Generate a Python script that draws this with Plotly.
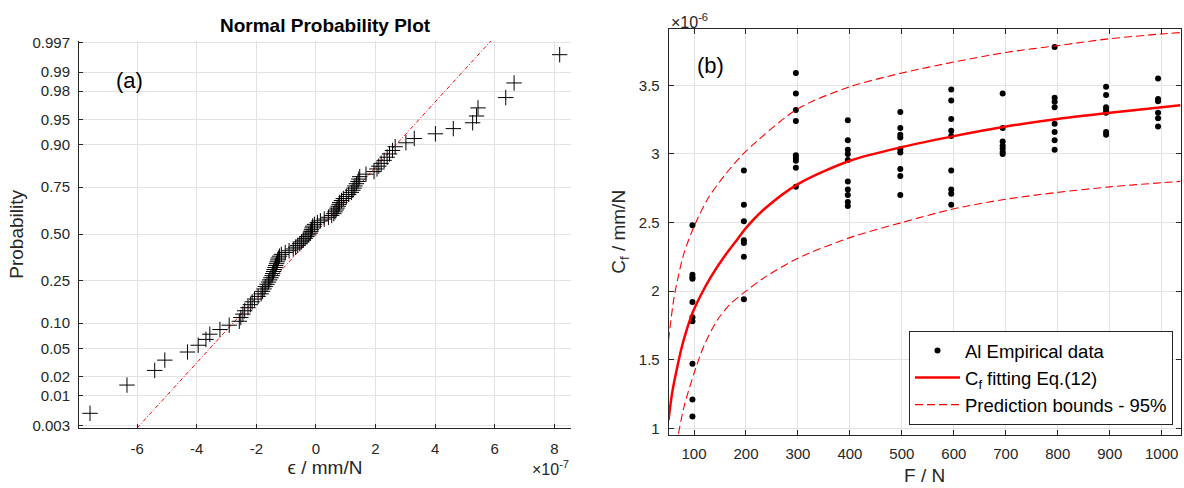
import plotly.graph_objects as go
from statistics import NormalDist

# ---------------- Panel (a): normal probability plot of residuals ----------------
# residuals, in units of 1e-7 mm/N, sorted
eps_residuals_e7 = [
    -7.58, -6.34, -5.41, -5.07, -4.31, -3.95, -3.69, -3.56, -3.22, -2.91, -2.57,
    -2.52, -2.45, -2.39, -2.28, -2.20, -2.14, -2.06, -1.94, -1.84,
    -1.79, -1.74, -1.70, -1.64, -1.59, -1.55, -1.51, -1.47, -1.45, -1.42,
    -1.40, -1.37, -1.35, -1.32, -1.30, -1.28, -1.26, -1.22, -1.16, -1.03,
    -0.90, -0.76, -0.68, -0.61, -0.54, -0.48, -0.42, -0.36, -0.30, -0.24,
    -0.19, -0.17, -0.15, -0.13, -0.11, -0.05, 0.05, 0.15, 0.28, 0.42,
    0.53, 0.60, 0.64, 0.68, 0.71, 0.75, 0.78, 0.80, 0.86, 0.92,
    1.02, 1.10, 1.19, 1.24, 1.28, 1.31, 1.36, 1.41, 1.44, 1.47,
    1.68, 1.95, 2.05, 2.11, 2.19, 2.29, 2.39, 2.47, 2.57, 2.66,
    3.02, 3.30, 4.01, 4.61, 5.26, 5.39, 5.44, 6.37, 6.65, 8.18,
]
prob_tick_values = [0.003, 0.01, 0.02, 0.05, 0.10, 0.25, 0.50, 0.75, 0.90, 0.95, 0.98, 0.99, 0.997]
prob_tick_labels = ["0.003", "0.01", "0.02", "0.05", "0.10", "0.25", "0.50",
                    "0.75", "0.90", "0.95", "0.98", "0.99", "0.997"]
eps_tick_values = [-6, -4, -2, 0, 2, 4, 6, 8]
eps_tick_labels = ["-6", "-4", "-2", "0", "2", "4", "6", "8"]
# reference line end points (eps in 1e-7, probability)
ref_line_eps_e7 = [-6.0, 5.88]
ref_line_prob = [0.00266, 0.99726]

# ---------------- Panel (b): Cf vs F ----------------
F_groups = [97, 196, 296, 396, 497, 595, 694, 794, 893, 993]
Cf_groups_e6 = [
    [2.48, 2.12, 2.10, 2.09, 1.92, 1.81, 1.78, 1.47, 1.21, 1.085],
    [2.88, 2.63, 2.51, 2.37, 2.35, 2.25, 1.94],
    [3.59, 3.44, 3.32, 3.24, 2.99, 2.97, 2.95, 2.90, 2.76],
    [3.245, 3.10, 3.03, 3.00, 2.955, 2.80, 2.74, 2.70, 2.65, 2.62],
    [3.305, 3.19, 3.14, 3.12, 3.035, 3.01, 2.89, 2.84, 2.70],
    [3.47, 3.39, 3.255, 3.17, 3.13, 2.88, 2.74, 2.71, 2.63],
    [3.44, 3.19, 3.09, 3.06, 3.04, 3.015, 3.00],
    [3.78, 3.41, 3.38, 3.34, 3.22, 3.16, 3.10, 3.03],
    [3.49, 3.43, 3.34, 3.32, 3.30, 3.16, 3.14],
    [3.55, 3.40, 3.385, 3.30, 3.26, 3.20],
]
fit_F = [51, 58, 68, 77, 87, 97, 113, 132, 158, 184, 200, 236, 300, 400, 500, 600, 700, 800, 900, 1000, 1036]
fit_Cf_e6 = [1.06, 1.26, 1.45, 1.60, 1.73, 1.84, 1.97, 2.10, 2.25, 2.38, 2.46, 2.60, 2.78, 2.95,
             3.05, 3.13, 3.20, 3.255, 3.30, 3.34, 3.355]
upper_F = [51, 61, 71, 81, 100, 126, 158, 200, 300, 400, 500, 600, 700, 800, 900, 1000, 1036]
upper_Cf_e6 = [1.64, 1.94, 2.13, 2.28, 2.47, 2.67, 2.84, 3.02, 3.33, 3.49, 3.59, 3.67, 3.74,
               3.79, 3.84, 3.875, 3.885]
lower_F = [70, 81, 100, 119, 145, 171, 200, 236, 300, 400, 500, 600, 700, 800, 900, 1000, 1036]
lower_Cf_e6 = [0.96, 1.16, 1.40, 1.60, 1.79, 1.91, 2.00, 2.10, 2.24, 2.39, 2.50, 2.60, 2.67,
               2.72, 2.76, 2.79, 2.80]
F_tick_values = [100, 200, 300, 400, 500, 600, 700, 800, 900, 1000]
Cf_tick_values = [1, 1.5, 2, 2.5, 3, 3.5]
Cf_tick_labels = ["1", "1.5", "2", "2.5", "3", "3.5"]

# ---------------- build figure ----------------
W, H = 1184, 488
nd = NormalDist()
n = len(eps_residuals_e7)
z_positions = [nd.inv_cdf((i + 0.5) / n) for i in range(n)]

AX = "#262626"
GRID = "#e3e3e3"
FONT = "Liberation Sans, Arial, Helvetica, sans-serif"

fig = go.Figure()

fig.add_trace(go.Scatter(
    x=ref_line_eps_e7, y=[nd.inv_cdf(p) for p in ref_line_prob],
    mode="lines", line=dict(color="red", width=1, dash="4px,2px,1px,2px"),
    xaxis="x", yaxis="y", showlegend=False, hoverinfo="skip"))
fig.add_trace(go.Scatter(
    x=eps_residuals_e7, y=z_positions, mode="markers",
    marker=dict(symbol="cross-thin", size=11, color="black", line=dict(width=1, color="black")),
    xaxis="x", yaxis="y", showlegend=False))

pts_x, pts_y = [], []
for F, vals in zip(F_groups, Cf_groups_e6):
    for v in vals:
        pts_x.append(F)
        pts_y.append(v)

fig.add_trace(go.Scatter(
    x=pts_x, y=pts_y, mode="markers", name="Al Empirical data",
    marker=dict(symbol="circle", size=6, color="black"),
    xaxis="x2", yaxis="y2", legendgroup="g1"))
fig.add_trace(go.Scatter(
    x=fit_F, y=fit_Cf_e6, mode="lines", name="C<sub>f</sub> fitting Eq.(12)",
    line=dict(color="red", width=2.5, shape="spline", smoothing=0.8),
    xaxis="x2", yaxis="y2", legendgroup="g2"))
fig.add_trace(go.Scatter(
    x=upper_F, y=upper_Cf_e6, mode="lines", name="Prediction bounds - 95%",
    line=dict(color="red", width=1.1, dash="8px,4px", shape="spline", smoothing=0.8),
    xaxis="x2", yaxis="y2", legendgroup="g3"))
fig.add_trace(go.Scatter(
    x=lower_F, y=lower_Cf_e6, mode="lines", name="Prediction bounds - 95%",
    line=dict(color="red", width=1.1, dash="8px,4px", shape="spline", smoothing=0.8),
    xaxis="x2", yaxis="y2", legendgroup="g3", showlegend=False))

tickfont = dict(family=FONT, size=15, color=AX)
titlefont = dict(family=FONT, size=19, color=AX)

fig.update_layout(
    width=W, height=H,
    margin=dict(l=0, r=0, t=0, b=0),
    paper_bgcolor="white", plot_bgcolor="white",
    font=dict(family=FONT, color=AX),
    xaxis=dict(domain=[79 / W, 571 / W], range=[-7.95, 8.56], anchor="y",
               tickvals=eps_tick_values, ticktext=eps_tick_labels,
               ticks="inside", ticklen=4, tickcolor=AX, tickwidth=1,
               showline=True, linecolor=AX, linewidth=1, mirror=False,
               showgrid=True, gridcolor=GRID, gridwidth=1, zeroline=False,
               tickfont=tickfont, ticklabelstandoff=7, automargin=False,
               title=dict(text="ϵ / mm/N", font=titlefont, standoff=4)),
    yaxis=dict(domain=[1 - 428 / H, 1 - 40.7 / H], range=[-2.787, 2.777], anchor="x",
               tickvals=[nd.inv_cdf(p) for p in prob_tick_values], ticktext=prob_tick_labels,
               ticks="inside", ticklen=4, tickcolor=AX, tickwidth=1,
               showline=True, linecolor=AX, linewidth=1, mirror=False,
               showgrid=True, gridcolor=GRID, gridwidth=1, zeroline=False,
               tickfont=tickfont, ticklabelstandoff=5, automargin=False,
               title=dict(text="Probability", font=titlefont, standoff=3)),
    xaxis2=dict(domain=[668.7 / W, 1180.7 / W], range=[51.3, 1036.6], anchor="y2",
                tickvals=F_tick_values,
                ticks="inside", ticklen=5, tickcolor=AX, tickwidth=1,
                showline=True, linecolor=AX, linewidth=1, mirror="allticks",
                showgrid=True, gridcolor=GRID, gridwidth=1, zeroline=False,
                tickfont=tickfont, ticklabelstandoff=5, automargin=False,
                title=dict(text="F / N", font=titlefont, standoff=7)),
    yaxis2=dict(domain=[1 - 434.7 / H, 1 - 29 / H], range=[0.953, 3.911], anchor="x2",
                tickvals=Cf_tick_values, ticktext=Cf_tick_labels,
                ticks="inside", ticklen=5, tickcolor=AX, tickwidth=1,
                showline=True, linecolor=AX, linewidth=1, mirror="allticks",
                showgrid=True, gridcolor=GRID, gridwidth=1, zeroline=False,
                tickfont=tickfont, ticklabelstandoff=5, automargin=False,
                title=dict(text="C<sub>f</sub> / mm/N", font=titlefont, standoff=8)),
    legend=dict(x=1173 / W, y=1 - 425 / H, xanchor="right", yanchor="bottom",
                bgcolor="white", bordercolor=AX, borderwidth=1,
                font=dict(family=FONT, size=18.5, color="black"),
                tracegroupgap=0, itemwidth=45),
    showlegend=True,
)


def ann(text, px, py, size, xanchor="center", yanchor="middle", angle=0, color=AX):
    fig.add_annotation(text=text, x=px / W, y=1 - py / H, xref="paper", yref="paper",
                       showarrow=False, xanchor=xanchor, yanchor=yanchor, textangle=angle,
                       font=dict(family=FONT, size=size, color=color))


ann("<b>Normal Probability Plot</b>", 325, 25, 19, color="black")
ann("(a)", 129, 81, 22, color="black")
ann("×10<sup>-7</sup>", 571, 468, 16, xanchor="right")
ann("(b)", 710, 65, 22, color="black")
ann("×10<sup>-6</sup>", 669, 21, 16, xanchor="left")

fig.write_html("out.html", config={"displayModeBar": False},
               post_script="document.body.style.margin='0';")
